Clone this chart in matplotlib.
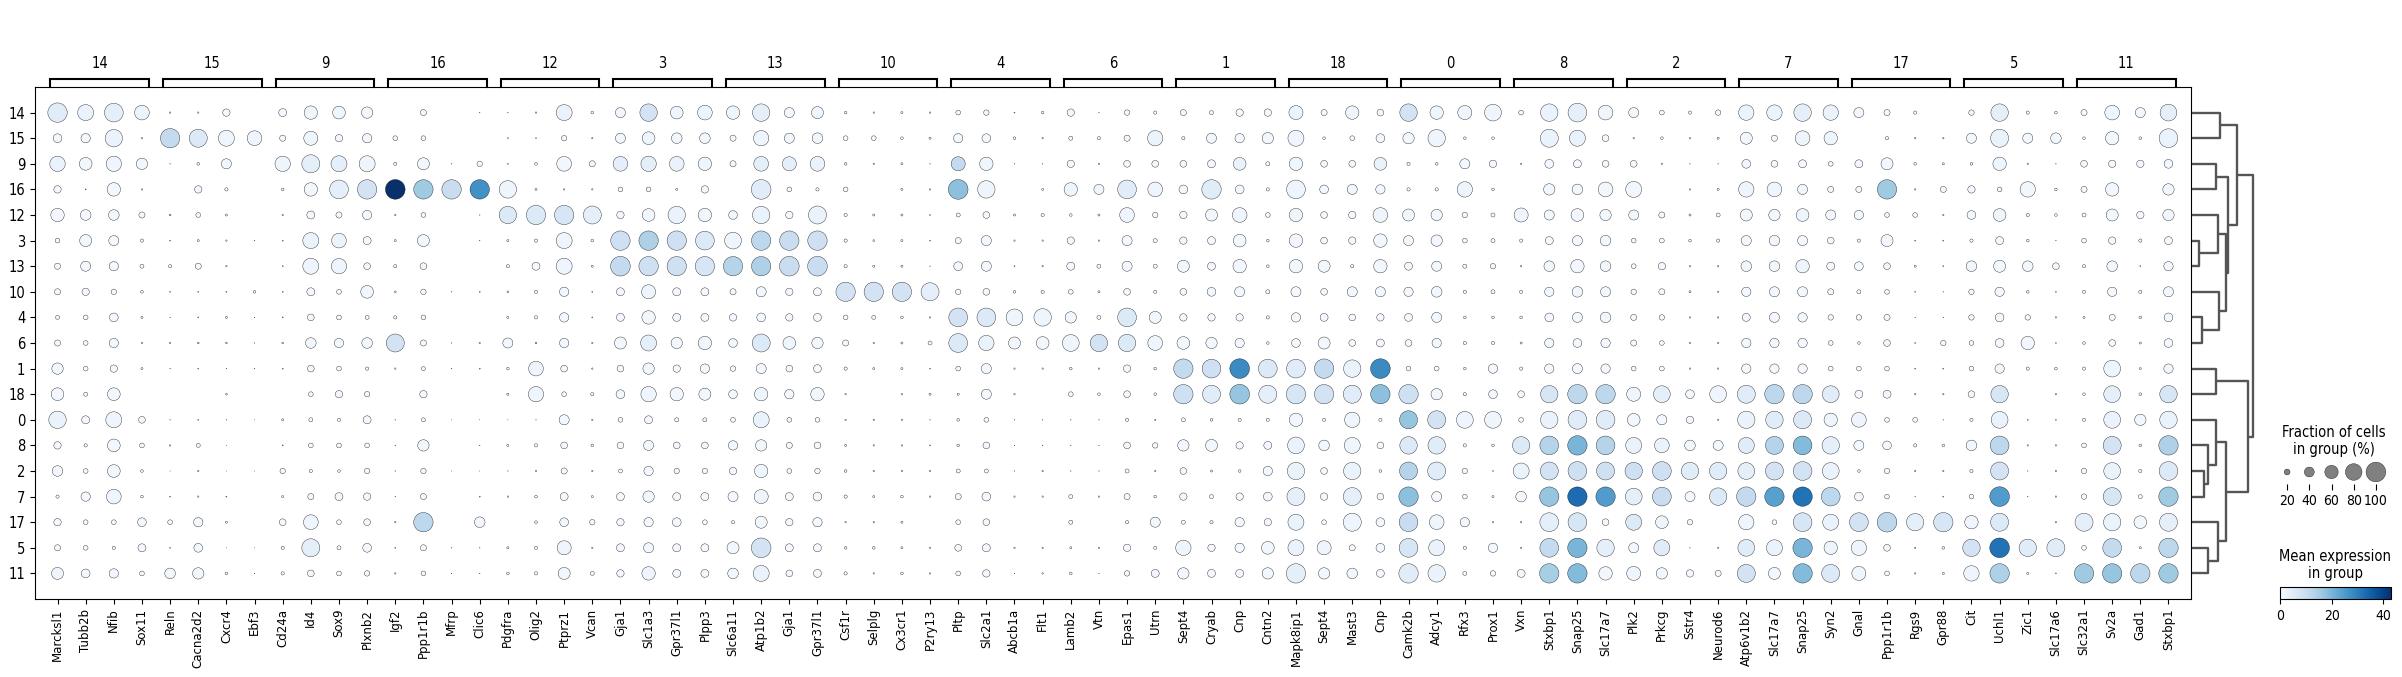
import numpy as np
import matplotlib
matplotlib.use("Agg")
import matplotlib.pyplot as plt
from matplotlib import font_manager
from matplotlib.colors import Normalize
from matplotlib.cm import ScalarMappable

# cluster order (rows) and the marker genes, 4 per cluster (columns)
groups = ["14", "15", "9", "16", "12", "3", "13", "10", "4", "6",
          "1", "18", "0", "8", "2", "7", "17", "5", "11"]
genes = ["Marcksl1", "Tubb2b", "Nfib", "Sox11", "Reln", "Cacna2d2", "Cxcr4", "Ebf3",
         "Cd24a", "Id4", "Sox9", "Plxnb2", "Igf2", "Ppp1r1b", "Mfrp", "Clic6",
         "Pdgfra", "Olig2", "Ptprz1", "Vcan", "Gja1", "Slc1a3", "Gpr37l1", "Plpp3",
         "Slc6a11", "Atp1b2", "Gja1", "Gpr37l1", "Csf1r", "Selplg", "Cx3cr1", "P2ry13",
         "Pltp", "Slc2a1", "Abcb1a", "Flt1", "Lamb2", "Vtn", "Epas1", "Utrn",
         "Sept4", "Cryab", "Cnp", "Cntn2", "Mapk8ip1", "Sept4", "Mast3", "Cnp",
         "Camk2b", "Adcy1", "Rfx3", "Prox1", "Vxn", "Stxbp1", "Snap25", "Slc17a7",
         "Plk2", "Prkcg", "Sstr4", "Neurod6", "Atp6v1b2", "Slc17a7", "Snap25", "Syn2",
         "Gnal", "Ppp1r1b", "Rgs9", "Gpr88", "Cit", "Uchl1", "Zic1", "Slc17a6",
         "Slc32a1", "Sv2a", "Gad1", "Stxbp1"]

# fraction of cells in group expressing the gene (%)
frac_pct = [
    [98,76,94,68, 3,3,27,0, 30,60,56,48, 0,21,0,1, 1,3,76,7, 41,85,56,68, 60,85,41,52, 7,3,5,3, 15,18,2,7, 27,1,18,9, 21,12,27,27, 64,21,60,24, 85,60,64,81, 15,85,94,68, 41,15,9,18, 72,72,85,72, 41,21,9,0, 18,85,9,7, 21,68,41,81],  # 14
    [34,37,85,3, 98,89,76,68, 21,64,27,37, 15,15,0,0, 2,2,18,3, 41,56,44,44, 21,72,41,44, 15,15,7,5, 37,34,7,3, 12,9,21,72, 9,41,37,48, 76,7,15,34, 48,85,7,7, 0,89,76,24, 3,7,3,5, 52,21,68,60, 0,9,3,3, 41,89,41,44, 7,60,7,94],  # 15
    [72,56,72,48, 1,7,41,0, 72,89,76,76, 9,52,1,18, 2,7,68,21, 68,72,68,60, 21,68,64,68, 7,3,5,1, 64,60,1,1, 27,3,24,24, 24,30,56,12, 60,24,24,56, 9,7,41,27, 3,34,30,24, 24,3,1,1, 34,24,30,15, 30,52,7,5, 7,60,3,1, 24,27,27,34],  # 9
    [27,2,60,3, 0,27,9,0, 7,60,94,98, 100,98,98,98, 85,5,3,3, 15,15,5,27, 0,100,15,9, 15,0,5,3, 100,85,0,5, 60,41,94,68, 34,98,34,9, 94,34,41,37, 9,9,72,7, 0,48,44,68, 76,0,3,5, 72,68,41,21, 21,98,3,21, 27,15,72,7, 21,60,0,48],  # 16
    [60,44,44,21, 4,15,5,0, 3,30,21,37, 3,15,0,1, 85,98,98,89, 27,56,85,60, 34,85,27,89, 9,5,5,2, 12,24,5,9, 7,5,68,18, 27,52,68,15, 60,24,27,68, 52,48,18,12, 64,41,56,48, 41,21,5,12, 52,48,56,41, 37,15,15,3, 34,56,9,7, 12,52,27,48],  # 12
    [15,52,41,9, 2,5,3,1, 2,76,68,30, 5,52,0,1, 5,9,76,7, 98,98,98,94, 81,98,98,98, 9,4,5,2, 21,41,3,3, 27,3,41,12, 27,30,56,7, 60,24,27,60, 41,48,15,12, 9,30,41,44, 15,15,7,9, 41,44,41,24, 9,52,2,2, 9,30,7,1, 15,27,9,30],  # 3
    [21,41,37,12, 9,21,3,0, 2,76,72,24, 9,24,0,0, 9,30,76,5, 100,98,98,98, 98,98,100,100, 9,5,5,1, 34,41,2,3, 30,12,41,12, 52,30,60,7, 60,52,9,60, 30,41,12,18, 3,44,60,44, 15,27,3,3, 44,44,60,30, 34,24,5,2, 44,52,44,24, 9,44,2,37],  # 13
    [21,27,18,7, 2,2,2,7, 2,30,15,56, 4,18,1,2, 4,9,37,2, 30,64,30,30, 21,41,27,30, 98,98,98,89, 18,24,7,9, 15,5,24,9, 24,34,41,12, 41,24,41,41, 37,44,9,12, 9,37,44,41, 18,21,5,3, 37,41,41,21, 12,15,2,1, 18,37,7,2, 9,37,9,41],  # 10
    [12,15,34,5, 1,2,5,1, 2,24,15,12, 9,15,0,0, 5,9,37,2, 30,60,30,30, 27,34,27,30, 15,12,7,3, 94,94,81,85, 48,12,94,52, 27,27,27,9, 37,30,24,27, 30,41,7,7, 7,34,41,44, 21,18,3,3, 30,41,37,18, 18,21,1,1, 18,34,18,3, 5,21,7,34],  # 4
    [21,15,37,3, 3,4,4,1, 4,44,37,44, 89,21,1,3, 41,4,37,3, 52,76,48,60, 34,89,56,48, 21,3,5,12, 94,72,52,56, 81,85,85,68, 56,48,37,7, 34,52,24,30, 24,37,9,9, 5,37,34,37, 21,15,3,3, 37,37,37,15, 7,24,2,18, 15,34,60,2, 7,24,5,34],  # 6
    [48,15,27,5, 1,2,1,1, 2,24,15,9, 3,12,1,2, 7,68,24,3, 24,48,27,37, 18,41,24,30, 9,5,5,2, 15,41,3,3, 7,3,27,7, 98,94,100,94, 94,98,85,100, 15,15,7,37, 9,37,41,37, 15,15,3,3, 37,37,37,15, 15,15,2,2, 15,37,9,7, 9,81,5,37],  # 1
    [56,12,56,0, 0,0,4,0, 0,15,27,18, 0,27,0,0, 5,72,15,9, 34,72,60,52, 34,60,37,60, 3,0,3,5, 5,41,3,0, 15,7,24,7, 98,89,100,89, 98,98,89,98, 98,48,9,34, 24,85,98,98, 64,81,34,81, 89,98,98,81, 30,30,3,3, 24,85,0,3, 7,81,7,85],  # 18
    [85,30,76,24, 1,2,1,0.5, 5,12,9,30, 1,12,0.5,0.5, 0.5,1,41,3, 15,30,12,12, 15,76,15,15, 3,3,3,1, 7,15,1,1, 1,1,9,3, 12,7,9,9, 60,9,72,9, 89,89,81,81, 15,85,94,94, 56,41,27,3, 85,85,89,60, 68,15,15,1, 9,81,2,2, 9,81,48,85],  # 0
    [27,9,56,15, 3,12,0.5,0, 2,15,15,15, 1,48,0,1, 5,9,24,7, 24,41,24,24, 37,48,21,24, 5,3,3,2, 7,24,1,1, 1,1,24,18, 48,52,27,30, 81,44,76,24, 85,85,9,7, 85,94,98,94, 76,68,44,41, 76,89,94,85, 41,34,9,7, 44,94,3,3, 15,89,7,98],  # 8
    [44,15,56,7, 0.5,3,0.5,0.5, 18,9,7,18, 1,18,0.5,0.5, 1,3,21,3, 12,37,18,18, 27,60,15,18, 7,3,3,3, 12,12,1,3, 1,1,12,3, 24,5,7,37, 85,24,85,7, 89,89,18,2, 76,89,94,89, 85,94,85,85, 81,89,94,81, 7,18,3,3, 9,89,1,3, 18,81,9,94],  # 2
    [9,37,68,7, 2,3,2,0, 5,21,30,27, 1,21,0,2, 3,7,30,5, 30,48,30,30, 41,64,30,34, 9,5,7,3, 21,34,3,3, 12,3,21,7, 27,12,27,34, 89,27,89,24, 98,41,15,5, 44,98,98,98, 81,94,41,85, 98,98,98,94, 34,15,1,2, 15,100,1,3, 18,89,12,98],  # 7
    [27,15,15,34, 15,37,5,0, 24,68,15,24, 3,98,0,44, 0,7,34,18, 27,37,34,15, 9,52,27,37, 3,3,5,0, 15,24,0,0, 12,0,9,41, 12,9,37,27, 76,15,89,34, 94,68,37,3, 3,94,94,24, 76,56,18,0, 72,15,94,76, 94,100,85,98, 60,89,0,3, 89,85,56,89],  # 17
    [21,15,9,30, 2,34,0.5,0.5, 9,89,12,34, 2,21,1,1, 5,9,64,3, 30,41,30,30, 52,100,30,30, 7,7,5,3, 24,30,3,3, 5,3,27,9, 72,27,37,56, 76,64,21,34, 94,76,9,37, 3,94,98,85, 41,76,1,3, 81,76,98,60, 72,24,3,7, 85,100,85,89, 15,94,5,98],  # 5
    [52,34,37,15, 44,48,7,1, 9,24,15,18, 3,15,1,1, 7,9,52,12, 27,60,30,30, 44,76,24,30, 9,3,7,3, 15,27,1,3, 7,1,18,30, 48,30,30,48, 98,48,44,30, 98,85,12,18, 30,98,98,60, 64,48,27,21, 89,52,98,89, 64,15,3,5, 72,98,5,2, 98,98,98,98],  # 11
]

# mean expression in group
mean_expr = [
    [5,3,4,2.5, 0.5,0.5,1,0, 1,2,2,1.5, 0,1,0,0.5, 0.5,0.5,3,0.5, 1.5,8,2,2.5, 2,4,1.5,2, 0.5,0.5,0.5,0.5, 1,1,0.5,0.5, 1,0.5,1,0.5, 1,1,1,1, 2.5,1,2,1, 8,2,2,2, 1,3,4,2, 1.5,1,0.5,1, 2.5,2.5,4,3, 1.5,1,0.5,0, 1,4,0.5,0.5, 1,2,1.5,4],  # 14
    [1,1,3,0.5, 11,6,2,2, 1,2,1,1, 1,1,0,0, 0.5,0.5,1,0.5, 1.5,2,1.5,1.5, 1,2,1.5,1.5, 0.5,0.5,0.5,0.5, 1,1,0.5,0.5, 0.5,0.5,1,2.5, 0.5,1.5,1,1.5, 2,0.5,0.5,1, 1.5,2,0.5,0.5, 0,3,3,1, 0.5,0.5,0.5,0.5, 1.5,1,2,2, 0,0.5,0.5,0.5, 1,3,1,1.5, 0.5,1.5,0.5,3],  # 15
    [3,1.5,2,1.5, 0.5,0.5,1,0, 2,4,4,2, 0.5,1.5,0.5,1, 0.5,0.5,1.5,1, 4,4,3,2, 1,4,4,3, 0.5,0.5,0.5,0.5, 11,2,0.5,0.5, 1,0.5,1,1, 1,1,3,0.5, 2,1,1,3, 0.5,0.5,1,1, 0.5,1,1,1, 1,0.5,0.5,0.5, 1,1,1,1, 1,1.5,0.5,0.5, 0.5,2,0.5,0.5, 1,1,1,1],  # 9
    [1,0.5,1.5,0.5, 0,1,0.5,0, 0.5,1.5,4,8, 43,16,10,27, 2,0.5,0.5,0.5, 1,1,0.5,1, 0,5,1,0.5, 1,0,0.5,0.5, 18,2,0,0.5, 2,1.5,5,2, 1,5,1,0.5, 2,1,1.5,1, 0.5,0.5,2,0.5, 0,1.5,1.5,1.5, 1.5,0,0.5,0.5, 2,2,1.5,1, 1,16,0.5,1, 1,1,1.5,0.5, 1,1.5,0,1.5],  # 16
    [1.5,1,1,1, 0.5,0.5,0.5,0, 0.5,1,1,1, 0.5,1,0,0.5, 6,6,7,4, 1,1.5,3,2, 1,3,1,3, 0.5,0.5,0.5,0.5, 0.5,1,0.5,0.5, 0.5,0.5,2,1, 1,1.5,2,1, 2,1,1,2, 1.5,1.5,1,0.5, 2,1.5,1.5,1.5, 1.5,1,0.5,0.5, 1.5,1.5,2,1.5, 1,1,1,0.5, 1,2,0.5,0.5, 0.5,1.5,1,1.5],  # 12
    [0.5,1.5,1,0.5, 0.5,0.5,0.5,0.5, 0.5,3,2.5,1, 0.5,1.5,0,0.5, 0.5,0.5,2,0.5, 9,14,9,6, 2,12,10,9, 0.5,0.5,0.5,0.5, 1,1,0.5,0.5, 1,0.5,1,0.5, 1,1,1.5,0.5, 1.5,1,1,1.5, 1,1.5,0.5,0.5, 0.5,1,1,1.5, 0.5,0.5,0.5,0.5, 1,1.5,1,1, 0.5,1.5,0.5,0.5, 0.5,1,0.5,0.5, 0.5,1,0.5,1],  # 3
    [1,1,1,0.5, 0.5,1,0.5,0, 0.5,2,2,1, 0.5,1,0,0, 0.5,1,2,0.5, 11,9,9,7, 13,14,10,10, 0.5,0.5,0.5,0.5, 1,1,0.5,0.5, 1,0.5,1,0.5, 1.5,1,1.5,0.5, 1.5,1.5,0.5,1.5, 1,1,0.5,1, 0.5,1.5,1.5,1.5, 0.5,1,0.5,0.5, 1.5,1.5,2,1, 1,1,0.5,0.5, 1.5,1.5,1.5,1, 0.5,1.5,0.5,1],  # 13
    [1,1,1,0.5, 0.5,0.5,0.5,0.5, 0.5,1,0.5,1.5, 0.5,1,0.5,0.5, 0.5,0.5,1,0.5, 1,2,1,1, 1,1.5,1,1, 8,8,8,4, 1,1,0.5,0.5, 0.5,0.5,1,0.5, 1,1,1,0.5, 1,1,1,1, 1,1,0.5,0.5, 0.5,1,1.5,1, 1,1,0.5,0.5, 1,1,1,1, 0.5,0.5,0.5,0.5, 1,1,0.5,0.5, 0.5,1,0.5,1],  # 10
    [0.5,0.5,1,0.5, 0.5,0.5,0.5,0.5, 0.5,1,0.5,0.5, 0.5,0.5,0,0, 0.5,0.5,1,0.5, 1,1.5,1,1, 1,1,1,1, 0.5,0.5,0.5,0.5, 8,6,2,2, 1.5,0.5,6,1.5, 1,1,1,0.5, 1,1,1,1, 1,1,0.5,0.5, 0.5,1,1,1.5, 1,1,0.5,0.5, 1,1,1,1, 1,1,0.5,0.5, 1,1,1,0.5, 0.5,1,0.5,1],  # 4
    [1,0.5,1,0.5, 0.5,0.5,0.5,0.5, 0.5,1.5,1,1.5, 8,1,0.5,0.5, 1.5,0.5,1,0.5, 1.5,4,1.5,2, 1,6,2,1.5, 1,0.5,0.5,0.5, 6,3,1.5,1.5, 2,8,6,2, 1.5,1.5,1,0.5, 1,1.5,1,1, 1,1,0.5,0.5, 0.5,1,1,1, 1,0.5,0.5,0.5, 1,1,1,0.5, 0.5,1,0.5,1, 0.5,1,1.5,0.5, 0.5,1,0.5,1],  # 6
    [1.5,0.5,1,0.5, 0.5,0.5,0.5,0.5, 0.5,1,0.5,0.5, 0.5,0.5,0.5,0.5, 0.5,2,1,0.5, 1,1.5,1,1, 1,1,1,1, 0.5,0.5,0.5,0.5, 0.5,1,0.5,0.5, 0.5,0.5,1,0.5, 11,9,28,6, 5,11,3,28, 0.5,0.5,0.5,1, 0.5,1,1,1, 0.5,0.5,0.5,0.5, 1,1,1,0.5, 0.5,0.5,0.5,0.5, 0.5,1,0.5,0.5, 0.5,2,0.5,1],  # 1
    [1.5,0.5,1.5,0, 0,0,0.5,0, 0,0.5,1,1, 0,1,0,0, 0.5,2,0.5,0.5, 1,2,1.5,1.5, 1,2,1,1.5, 0.5,0,0.5,0.5, 0.5,1,0.5,0, 0.5,0.5,1,0.5, 9,5,17,4, 7,8,5,18, 9,1.5,0.5,1, 1,7,12,12, 2,4,1,2, 5,12,12,5, 1,1,0.5,0.5, 1,7,0,0.5, 0.5,4,0.5,7],  # 18
    [3,1,2,1, 0.5,0.5,0.5,0.5, 0.5,0.5,0.5,1, 0.5,0.5,0.5,0.5, 0.5,0.5,1,0.5, 0.5,1,0.5,0.5, 0.5,3,0.5,0.5, 0.5,0.5,0.5,0.5, 0.5,0.5,0.5,0.5, 0.5,0.5,0.5,0.5, 0.5,0.5,0.5,0.5, 1.5,0.5,2,0.5, 17,8,2,2, 0.5,3,5,5, 1.5,1,1,0.5, 3,5,6,2, 2,0.5,0.5,0.5, 0.5,3,0.5,0.5, 0.5,3,1.5,3],  # 0
    [1,0.5,1.5,0.5, 0.5,0.5,0.5,0, 0.5,0.5,0.5,0.5, 0.5,1.5,0,0.5, 0.5,0.5,1,0.5, 1,1,1,1, 1,1.5,1,1, 0.5,0.5,0.5,0.5, 0.5,1,0.5,0.5, 0.5,0.5,1,1, 1.5,1.5,1,1, 3,1.5,2,1, 6,5,0.5,0.5, 6,13,20,13, 3,3,1.5,1, 5,13,19,4, 1,1,0.5,0.5, 1.5,12,0.5,0.5, 0.5,8,0.5,14],  # 8
    [1.5,0.5,1.5,0.5, 0.5,0.5,0.5,0.5, 1,0.5,0.5,1, 0.5,1,0.5,0.5, 0.5,0.5,1,0.5, 0.5,1,1,1, 1,2,0.5,1, 0.5,0.5,0.5,0.5, 0.5,0.5,0.5,0.5, 0.5,0.5,0.5,0.5, 1,0.5,0.5,1, 3,1,3,0.5, 13,5,1,0.5, 3,8,9,9, 9,9,5,5, 4,8,8,3, 0.5,1,0.5,0.5, 0.5,8,0.5,0.5, 1,3,0.5,6],  # 2
    [0.5,1,2,0.5, 0.5,0.5,0.5,0, 0.5,1,1,1, 0.5,1,0,0.5, 0.5,0.5,1,0.5, 1,1.5,1,1, 1,2,1,1, 0.5,0.5,0.5,0.5, 1,1,0.5,0.5, 0.5,0.5,1,0.5, 1,0.5,1,1, 4,1,4,1, 18,1,0.5,0.5, 1.5,17,33,25, 4,10,1,6, 11,24,32,12, 1,0.5,0.5,0.5, 0.5,25,0.5,0.5, 1,7,0.5,16],  # 7
    [1,0.5,0.5,1, 0.5,1,0.5,0, 1,2,0.5,1, 0.5,12,0,1.5, 0,0.5,1,1, 1,1,1,0.5, 0.5,1.5,1,1, 0.5,0.5,0.5,0, 0.5,1,0,0, 0.5,0,0.5,1, 0.5,0.5,1,1, 3,0.5,2,1, 10,2,1,0.5, 0.5,4,7,1, 6,2,1,0, 2,0.5,7,3, 8,12,4,7, 2,6,0,0.5, 4,3,1.5,4],  # 17
    [1,0.5,0.5,1, 0.5,1,0.5,0.5, 0.5,4,0.5,1, 0.5,1,0.5,0.5, 0.5,0.5,2,0.5, 1,1,1,1, 1.5,8,1,1, 0.5,0.5,0.5,0.5, 1,1,0.5,0.5, 0.5,0.5,1,0.5, 2,1,1,1.5, 3,2,1,1, 7,3,0.5,1, 0.5,11,20,4, 1,5,0.5,0.5, 5,3,20,2, 2,1,0.5,0.5, 8,32,5,5, 0.5,11,0.5,12],  # 5
    [2,1,1,0.5, 1.5,1.5,0.5,0.5, 0.5,1,0.5,1, 0.5,0.5,0.5,0.5, 0.5,0.5,1.5,0.5, 1,2,1,1, 1.5,3,1,1, 0.5,0.5,0.5,0.5, 0.5,1,0.5,0.5, 0.5,0.5,1,1, 1.5,1,1,1.5, 4,1.5,1.5,1, 5,3,0.5,1, 1,15,19,1.5, 2,1.5,1,1, 8,1.5,19,6, 2,0.5,0.5,0.5, 2,14,0.5,0.5, 16,17,12,16],  # 11
]

# dendrogram of the clusters: (child, child, height)
merges = {
    "a": ("14", "15", 0.453),
    "b": ("9", "16", 0.387),
    "c": ("3", "13", 0.113),
    "d": ("12", "c", 0.425),
    "e": ("4", "6", 0.160),
    "f": ("10", "e", 0.443),
    "g": ("d", "f", 0.566),
    "h": ("b", "g", 0.594),
    "i": ("a", "h", 0.736),
    "j": ("1", "18", 0.396),
    "k": ("2", "7", 0.189),
    "l": ("8", "k", 0.255),
    "m": ("0", "l", 0.396),
    "n": ("5", "11", 0.264),
    "o": ("17", "n", 0.425),
    "p": ("m", "o", 0.566),
    "q": ("j", "p", 0.925),
    "r": ("i", "q", 1.0),
}

legend_sizes = [20, 40, 60, 80, 100]

# condensed face for horizontal texts if the system has one
cond_file = None
for fe in font_manager.fontManager.ttflist:
    if fe.name.startswith("DejaVu Sans") and "ondensed" in (fe.name + fe.fname) \
            and fe.style == "normal" and fe.weight in (400, "normal", "regular", "book"):
        cond_file = fe.fname
        break


def hfont(size):
    if cond_file:
        return font_manager.FontProperties(fname=cond_file, size=size)
    return font_manager.FontProperties(family="DejaVu Sans", size=size)


W, H = 2402, 677


def rect(x0, y0, x1, y1):
    return [x0 / W, 1 - y1 / H, (x1 - x0) / W, (y1 - y0) / H]


frac = np.array(frac_pct, dtype=float) / 100.0
expr = np.array(mean_expr, dtype=float)
nrow, ncol = frac.shape

fig = plt.figure(figsize=(W / 100, H / 100), dpi=100)

# main dot plot
ax = fig.add_axes(rect(35, 87, 2191, 599))
yy, xx = np.indices(frac.shape)
keep = frac.ravel() > 0
norm = Normalize(vmin=expr.min(), vmax=expr.max())
ax.scatter(xx.ravel()[keep], yy.ravel()[keep], s=200 * frac.ravel()[keep] ** 1.5,
           c=expr.ravel()[keep], cmap="Blues", norm=norm,
           edgecolors="black", linewidths=0.25, zorder=3)
ax.set_xlim(-0.8, ncol - 0.2)
ax.set_ylim(nrow, -1)
ax.set_xticks(range(ncol))
ax.set_xticklabels(genes, rotation=90, fontsize=8.5)
ax.set_yticks(range(nrow))
ax.set_yticklabels(groups)
for t in ax.get_yticklabels():
    t.set_fontproperties(hfont(10.5))

# brackets with the cluster of each gene block
gax = fig.add_axes(rect(35, 73.7, 2191, 87))
gax.set_xlim(ax.get_xlim())
gax.set_ylim(0, 1)
gax.axis("off")
for k, g in enumerate(groups):
    left, right = 4 * k - 0.25, 4 * k + 3 + 0.25
    gax.plot([left, left, right, right], [0, 0.6, 0.6, 0], color="black", lw=1.5,
             solid_joinstyle="miter", clip_on=False)
    gax.text((left + right) / 2, 1.75, g, ha="center", va="center",
             fontproperties=hfont(10.5))

# dendrogram
dax = fig.add_axes(rect(2192, 87, 2256, 599))
dax.set_ylim(ax.get_ylim())
dax.set_xlim(0, 1.05)
dax.axis("off")
pos = {g: (float(i), 0.0) for i, g in enumerate(groups)}
for name, (c1, c2, h) in merges.items():
    y1, h1 = pos[c1]
    y2, h2 = pos[c2]
    dax.plot([h1, h, h, h2], [y1, y1, y2, y2], color="#555555", lw=1.7,
             clip_on=False, solid_capstyle="butt")
    pos[name] = ((y1 + y2) / 2, h)

# size legend
sax = fig.add_axes(rect(2276, 460, 2387, 484))
sizes = np.array(legend_sizes) / 100.0
sax.scatter(np.arange(len(sizes)), np.full(len(sizes), 0.5), s=200 * sizes ** 1.5,
            color="gray", edgecolors="black", linewidths=0.25)
sax.set_xlim(-0.5, len(sizes) - 0.5)
sax.set_ylim(0, 1)
for sp in sax.spines.values():
    sp.set_visible(False)
sax.set_yticks([])
sax.set_xticks(np.arange(len(sizes)))
sax.set_xticklabels([str(v) for v in legend_sizes])
sax.tick_params(axis="x", length=4, pad=3)
for t in sax.get_xticklabels():
    t.set_fontproperties(hfont(10))
fig.text(2334 / W, 1 - 441 / H, "Fraction of cells\nin group (%)", ha="center",
         va="center", fontproperties=hfont(10.5), linespacing=1.2)

# colour bar
cax = fig.add_axes(rect(2280, 587, 2391, 599))
cb = fig.colorbar(ScalarMappable(norm=norm, cmap="Blues"), cax=cax,
                  orientation="horizontal")
cb.set_ticks([0, 20, 40])
cb.outline.set_linewidth(0.8)
for t in cax.get_xticklabels():
    t.set_fontproperties(hfont(10))
fig.text(2335 / W, 1 - 565 / H, "Mean expression\nin group", ha="center",
         va="center", fontproperties=hfont(10.5), linespacing=1.2)

fig.savefig("out.png", dpi=100)
